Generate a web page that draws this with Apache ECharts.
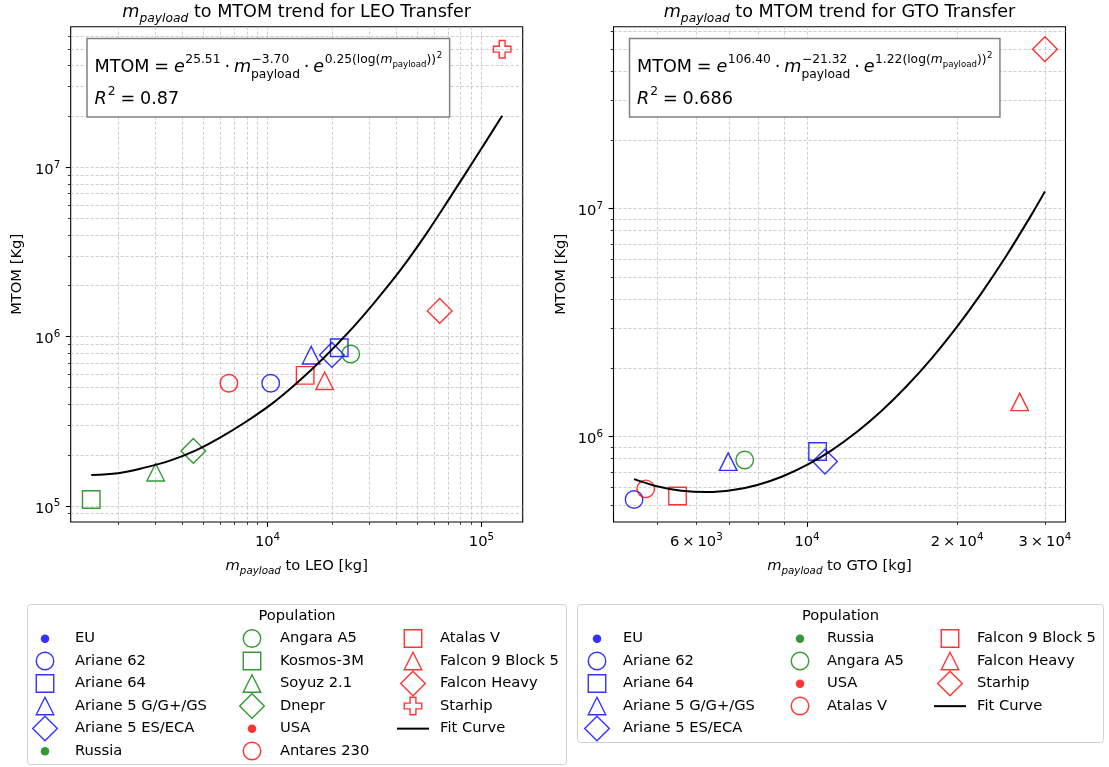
<!DOCTYPE html>
<html><head><meta charset="utf-8">
<script src="https://cdn.jsdelivr.net/npm/echarts@6/dist/echarts.min.js"></script>
<style>html,body{margin:0;padding:0;background:#fff}#c{width:1109px;height:767px}</style>
</head><body><div id="c"></div>
<script>
// ---------------- data ----------------
const leoNames   = ['Ariane 62','Ariane 64','Ariane 5 G/G+/GS','Ariane 5 ES/ECA','Angara A5','Kosmos-3M','Soyuz 2.1','Dnepr','Antares 230','Atalas V','Falcon 9 Block 5','Falcon Heavy','Starhip'];
const leoGroups  = ['EU','EU','EU','EU','Russia','Russia','Russia','Russia','USA','USA','USA','USA','USA'];
const leoMarkers = ['circle','square','triangle','diamond','circle','square','triangle','diamond','circle','square','triangle','diamond','plus'];
const leoPayload = [10350, 21650, 16000, 20000, 24500, 1500, 3000, 4500, 6600, 15000, 18500, 63800, 125000];
const leoMTOM    = [530000, 860000, 777000, 780000, 790000, 109000, 158000, 211000, 530000, 590000, 549000, 1420000, 50000000];

const gtoNames   = ['Ariane 62','Ariane 64','Ariane 5 G/G+/GS','Ariane 5 ES/ECA','Angara A5','Atalas V','Falcon 9 Block 5','Falcon Heavy','Starhip'];
const gtoGroups  = ['EU','EU','EU','EU','Russia','USA','USA','USA','USA'];
const gtoMarkers = ['circle','square','triangle','diamond','circle','circle','square','triangle','diamond'];
const gtoPayload = [4500, 10500, 6950, 10865, 7500, 4750, 5500, 26700, 30000];
const gtoMTOM    = [530000, 860000, 777000, 777000, 790000, 590000, 549000, 1420000, 50000000];

// fit curves
const leoFitPayload = [1500, 2000, 2600, 3500, 4600, 6000, 7900, 10500, 13800, 18200, 24000, 31600, 41700, 55000, 72400, 95500, 125000];
const leoFitMTOM    = [152000, 156000, 167000, 185000, 212000, 253000, 313000, 402000, 536000, 742000, 1066000, 1591000, 2461000, 4020000, 6840000, 11800000, 20200000];
const gtoFitPayload = [4500, 5000, 5600, 6300, 7100, 7950, 8900, 10000, 11200, 12600, 14100, 15800, 17800, 20000, 22400, 25100, 28200, 30000];
const gtoFitMTOM    = [651000, 606000, 579000, 571000, 583000, 614000, 667000, 751000, 871000, 1050000, 1295000, 1654000, 2211000, 3037000, 4270000, 6210000, 9410000, 11900000];

const leoFitText = {a:'25.51', b:'\u22123.70', c:'0.25', r2:'0.87'};
const gtoFitText = {a:'106.40', b:'\u221221.32', c:'1.22', r2:'0.686'};

// tick labels
const leoXTickLabels = [1e4, 1e5];
const leoYTickLabels = [1e5, 1e6, 1e7];
const gtoXTickLabels = [6000, 10000, 20000, 30000];
const gtoYTickLabels = [1e6, 1e7];

const leoLegendOrder = ['EU','Ariane 62','Ariane 64','Ariane 5 G/G+/GS','Ariane 5 ES/ECA','Russia','Angara A5','Kosmos-3M','Soyuz 2.1','Dnepr','USA','Antares 230','Atalas V','Falcon 9 Block 5','Falcon Heavy','Starhip','Fit Curve'];
const gtoLegendOrder = ['EU','Ariane 62','Ariane 64','Ariane 5 G/G+/GS','Ariane 5 ES/ECA','Russia','Angara A5','USA','Atalas V','Falcon 9 Block 5','Falcon Heavy','Starhip','Fit Curve'];

// ---------------- styles ----------------
const FONT = 'DejaVu Sans';
const colorOf = {EU:'#0000ff', Russia:'#008000', USA:'#ff0000'};
const PLUS = 'path://M1,0H2V1H3V2H2V3H1V2H0V1H1Z';
const symOf  = {circle:'circle', square:'rect', triangle:'triangle', diamond:'diamond', plus:PLUS};
const sizeOf = {circle:17.5, square:17.5, triangle:17.5, diamond:24.7, plus:17.5};
const ICON = {circle:'circle', square:'path://M0,0H10V10H0Z', triangle:'path://M5,0L10,10H0Z', diamond:'path://M5,0L10,5L5,10L0,5Z', plus:PLUS, dot:'circle', line:'path://M0,0H32V2H0Z'};
const ICON_H = {circle:17.5, square:17.5, triangle:17.5, diamond:24.7, plus:17.5, dot:8.5, line:2};
const ICON_VW = {circle:18.9, square:18.9, triangle:18.9, diamond:26.1, plus:18.9, dot:8.5, line:32};
const ICON_VH = {circle:18.9, square:18.9, triangle:18.9, diamond:26.1, plus:18.9, dot:8.5, line:2};
const STROKE = 1.4;

function logRange(vals){
  const l = vals.map(v => Math.log10(v));
  const mn = Math.min(...l), mx = Math.max(...l), sp = mx - mn;
  return [Math.pow(10, mn - 0.05*sp), Math.pow(10, mx + 0.05*sp)];
}
function decadeTicks(lo, hi, mults){
  const out = [];
  for (let k = Math.floor(Math.log10(lo)) - 1; k <= Math.ceil(Math.log10(hi)); k++){
    for (const d of mults){ const v = +(d*Math.pow(10,k)).toPrecision(8); if (v >= lo && v <= hi) out.push(v); }
  }
  return out;
}
const MINORS = [2,3,4,5,6,7,8,9];
const RICH = {
  b:   {fontFamily:FONT, fontSize:14.7, color:'#000', padding:[6,0,0,0]},
  sup: {fontFamily:FONT, fontSize:10.3, color:'#000', padding:[0,0,5,0]}
};
function sciLabel(v){
  const e = Math.floor(Math.log10(v) + 1e-9);
  const m = Math.round(v / Math.pow(10, e));
  return (m === 1 ? '{b|10}' : '{b|' + m + '\u2009\u00d7\u200910}') + '{sup|' + e + '}';
}
const GRIDLINE = {show:true, lineStyle:{color:'#b8b8b8', width:0.7, type:[3,2]}};

function axisPair(dim, gridIndex, range, labels, nameOpt){
  const majors = decadeTicks(range[0], range[1], [1]);
  const minors = decadeTicks(range[0], range[1], MINORS);
  const pos = dim === 'x' ? 'bottom' : 'left';
  const main = Object.assign({
    type:'log', logBase:10, gridIndex, min:range[0], max:range[1], position:pos,
    axisLine:{show:false},
    axisTick:{show:true, inside:false, length:4.9, lineStyle:{color:'#000', width:1.1}, customValues:majors},
    axisLabel:{show:true, customValues:labels, margin: dim === 'x' ? 7 : 10.5, formatter:sciLabel, rich:RICH,
               fontFamily:FONT, fontSize:14.7, color:'#000'},
    splitLine:GRIDLINE, minorTick:{show:false}, minorSplitLine:{show:false}
  }, nameOpt || {});
  const minor = {
    type:'log', logBase:10, gridIndex, min:range[0], max:range[1], position:pos,
    axisLine:{show:false}, axisLabel:{show:false},
    axisTick:{show:true, inside:false, length:2.8, lineStyle:{color:'#000', width:0.8}, customValues:minors},
    splitLine:GRIDLINE
  };
  return [main, minor];
}

const leoXR = logRange(leoPayload.concat(leoFitPayload));
const leoYR = logRange(leoMTOM.concat(leoFitMTOM));
const gtoXR = logRange(gtoPayload.concat(gtoFitPayload));
const gtoYR = logRange(gtoMTOM.concat(gtoFitMTOM));

const yName = (gap) => ({name:'MTOM [Kg]', nameLocation:'middle', nameGap:gap, nameRotate:90,
  nameTextStyle:{fontFamily:FONT, fontSize:14.7, color:'#000'}});

const xAxes = [].concat(axisPair('x', 0, leoXR, leoXTickLabels), axisPair('x', 1, gtoXR, gtoXTickLabels));
const yAxes = [].concat(axisPair('y', 0, leoYR, leoYTickLabels, yName(46)), axisPair('y', 1, gtoYR, gtoYTickLabels, yName(45)));

function scatterSeries(names, groups, markers, xs, ys, ai){
  return names.map((n, i) => ({
    type:'scatter', name:n, xAxisIndex:ai, yAxisIndex:ai, z:3,
    symbol:symOf[markers[i]], symbolSize:sizeOf[markers[i]],
    itemStyle:{color:'rgba(0,0,0,0)', borderColor:colorOf[groups[i]], borderWidth:STROKE},
    emphasis:{disabled:true}, silent:true,
    data:[[xs[i], ys[i]]]
  }));
}
function fitSeries(xs, ys, ai){
  return {type:'line', name:'Fit Curve', xAxisIndex:ai, yAxisIndex:ai, z:4, symbol:'none', showSymbol:false,
    smooth:0.35, lineStyle:{color:'#000', width:2}, emphasis:{disabled:true}, silent:true,
    data: xs.map((x, i) => [x, ys[i]])};
}
const groupSeries = Object.keys(colorOf).map(g => ({type:'scatter', name:g, xAxisIndex:0, yAxisIndex:0, data:[],
  symbol:'circle', itemStyle:{color:colorOf[g]}}));

const series = [].concat(
  groupSeries,
  scatterSeries(leoNames, leoGroups, leoMarkers, leoPayload, leoMTOM, 0),
  [fitSeries(leoFitPayload, leoFitMTOM, 0)],
  scatterSeries(gtoNames, gtoGroups, gtoMarkers, gtoPayload, gtoMTOM, 2),
  [fitSeries(gtoFitPayload, gtoFitMTOM, 2)]
);

// ---------------- legends (matplotlib-like column filling) ----------------
function buildLegends(order, names, groups, markers, cols, textX, rows){
  const ncol = cols.length, n = order.length;
  const base = Math.floor(n / ncol), extra = n % ncol;
  const out = []; let k = 0;
  for (let c = 0; c < ncol; c++){
    const cnt = base + (c < extra ? 1 : 0);
    for (let r = 0; r < cnt; r++, k++){
      const nm = order[k];
      let key, style;
      if (colorOf[nm]) { key = 'dot'; style = {color:colorOf[nm], borderWidth:0}; }
      else if (nm === 'Fit Curve') { key = 'line'; style = {color:'#000', borderWidth:0}; }
      else { const i = names.indexOf(nm); key = markers[i];
        style = {color:'rgba(0,0,0,0)', borderColor:colorOf[groups[i]], borderWidth:STROKE}; }
      const H = ICON_H[key], cx = cols[c], W = 2*(textX[c] - 5 - cx);
      out.push({show:true, left:cx - ICON_VW[key]/2, top:rows[r] - Math.max(ICON_VH[key], 14.7)/2, padding:0,
        itemWidth:W, itemHeight:H, itemGap:0, symbolKeepAspect:true, selectedMode:false, orient:'horizontal',
        textStyle:{fontFamily:FONT, fontSize:14.7, color:'#000'},
        data:[{name:nm, icon:ICON[key], itemStyle:style}]});
    }
  }
  return out;
}
const ROWS = [638.5, 661, 683.5, 706, 728.5, 751];
const legends = [].concat(
  buildLegends(leoLegendOrder, leoNames, leoGroups, leoMarkers, [45, 252, 413], [75, 280, 440], ROWS),
  buildLegends(gtoLegendOrder, gtoNames, gtoGroups, gtoMarkers, [597, 800, 950], [623, 827, 977], ROWS)
);

// ---------------- math-like text helper ----------------
const mctx = document.createElement('canvas').getContext('2d');
function fontStr(fs, it){ return (it ? 'italic ' : '') + fs + 'px "' + FONT + '"'; }
function measure(t, fs, it){ mctx.font = fontStr(fs, it); return mctx.measureText(t).width; }
function mathLine(pieces, x0, base, z){
  const els = []; let x = x0, stackStart = null, stackEnd = 0;
  for (const p of pieces){
    const px = (stackStart !== null ? stackStart : x) + (p.sp || 0);
    const w = measure(p.t, p.fs, p.it);
    els.push({type:'text', z:z || 10, silent:true, style:{text:p.t, x:px, y:base + (p.dy || 0) - 0.346*p.fs,
      font:fontStr(p.fs, p.it), fill:'#000', align:'left', verticalAlign:'middle'}});
    if (p.noAdv){ stackStart = x; stackEnd = px + w; }
    else { const end = px + w; x = stackStart !== null ? Math.max(end, stackEnd) : end; stackStart = null; }
  }
  return {els, width: x - x0};
}
const F = 17.6, S = 12.3, T = 8.6, SUP = 9.5, SUB = 5;
function formulaPieces(ft){
  return [
    {t:'MTOM', fs:F},
    {t:'=', fs:F, sp:0.278*F},
    {t:'e', fs:F, it:1, sp:0.278*F},
    {t:ft.a, fs:S, dy:-SUP, sp:0.5},
    {t:'\u22c5', fs:F, sp:0.222*F},
    {t:'m', fs:F, it:1, sp:0.222*F},
    {t:ft.b, fs:S, dy:-SUP, sp:0.5, noAdv:1},
    {t:'payload', fs:S, dy:SUB, sp:0},
    {t:'\u22c5', fs:F, sp:0.222*F},
    {t:'e', fs:F, it:1, sp:0.222*F},
    {t:ft.c + '(log(', fs:S, dy:-SUP, sp:0.5},
    {t:'m', fs:S, it:1, dy:-SUP},
    {t:'payload', fs:T, dy:-SUP + 3},
    {t:'))', fs:S, dy:-SUP},
    {t:'2', fs:T, dy:-SUP - 6, sp:0.5}
  ];
}
function r2Pieces(ft){
  return [{t:'R', fs:F, it:1}, {t:'2', fs:S, dy:-SUP, sp:1}, {t:'=', fs:F, sp:0.278*F}, {t:ft.r2, fs:F, sp:0.278*F}];
}
function annotation(ft, boxX, textX){
  const l1 = mathLine(formulaPieces(ft), textX, 73.8);
  const l2 = mathLine(r2Pieces(ft), textX, 105.3);
  const w = Math.max(l1.width, l2.width) + (textX - boxX) * 2;
  return [{type:'rect', z:9, silent:true, shape:{x:boxX, y:38.5, width:w, height:78.5},
    style:{fill:'#fff', stroke:'#808080', lineWidth:1.5}}].concat(l1.els, l2.els);
}
function centered(pieces, cx, base){
  const probe = mathLine(pieces, 0, base);
  return mathLine(pieces, cx - probe.width/2, base).els;
}
function titlePieces(rest, fs, sfs, sub){
  return [{t:'m', fs:fs, it:1}, {t:'payload', fs:sfs, it:1, dy:sub}, {t:rest, fs:fs}];
}
const LCX = 70.7 + 226, RCX = 613.5 + 226;

const graphics = [].concat(
  centered(titlePieces(' to MTOM trend for LEO Transfer', F, S, 4.5), LCX, 18.5),
  centered(titlePieces(' to MTOM trend for GTO Transfer', F, S, 4.5), RCX, 18.5),
  centered(titlePieces(' to LEO [kg]', 14.7, 10.3, 3.8), LCX, 571),
  centered(titlePieces(' to GTO [kg]', 14.7, 10.3, 3.8), RCX, 571),
  annotation(leoFitText, 87, 94.5),
  annotation(gtoFitText, 629.5, 637),
  [{type:'rect', z:1, silent:true, shape:{x:27.5, y:604.5, width:539, height:160, r:3}, style:{fill:'#fff', stroke:'#d0d0d0', lineWidth:1}},
   {type:'rect', z:1, silent:true, shape:{x:577.5, y:604.5, width:526, height:138, r:3}, style:{fill:'#fff', stroke:'#d0d0d0', lineWidth:1}}],
  centered([{t:'Population', fs:14.7}], 297, 621),
  centered([{t:'Population', fs:14.7}], 840.5, 621)
);

const chart = echarts.init(document.getElementById('c'), null, {renderer:'canvas', width:1109, height:767});
chart.setOption({
  animation:false,
  backgroundColor:'#fff',
  grid:[
    {left:70.7, top:26.7, width:452, height:495.3, show:true, borderColor:'#000', borderWidth:1.1, backgroundColor:'rgba(0,0,0,0)', containLabel:false, outerBoundsMode:'none'},
    {left:613.5, top:26.7, width:452, height:495.3, show:true, borderColor:'#000', borderWidth:1.1, backgroundColor:'rgba(0,0,0,0)', containLabel:false, outerBoundsMode:'none'}
  ],
  xAxis:xAxes,
  yAxis:yAxes,
  legend:legends,
  series:series,
  graphic:{elements:graphics}
});
</script>
</body></html>
